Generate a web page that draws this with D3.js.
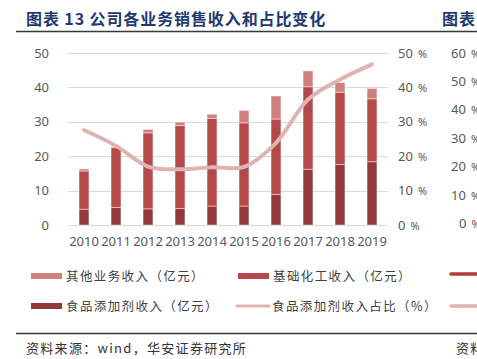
<!DOCTYPE html>
<html>
<head>
<meta charset="utf-8">
<script src="https://cdn.jsdelivr.net/npm/d3@7"></script>
<style>
  html, body { margin: 0; padding: 0; background: #fff; }
  svg { display: block; }
</style>
</head>
<body>
<div id="chart"></div>
<script>
// données
const years = ["2010", "2011", "2012", "2013", "2014", "2015", "2016", "2017", "2018", "2019"];
const foodRevenue = [4.6, 5.1, 4.7, 4.8, 5.5, 5.5, 8.9, 16.2, 17.6, 18.4];
const chemRevenue = [11.1, 17.4, 22.1, 24.1, 25.5, 24.2, 21.9, 24.0, 21.0, 18.3];
const otherRevenue = [0.6, 0.3, 1.0, 1.0, 1.2, 3.6, 6.7, 4.6, 2.8, 3.0];
const foodShare = [27.6, 23.0, 17.0, 16.2, 16.8, 16.9, 23.9, 36.5, 42.3, 46.7];
const leftTicks = [0, 10, 20, 30, 40, 50];
const rightTicks = [0, 10, 20, 30, 40, 50];
const nextChartTicks = [0, 10, 20, 30, 40, 50, 60];

const W = 477, H = 359;
const svg = d3.select("#chart").append("svg").attr("width", W).attr("height", H);

const cjk = "'Noto Sans CJK SC', sans-serif";
const num = "'Noto Sans', 'DejaVu Sans', sans-serif";
const colors = { other: "#d07f7f", chem: "#b54949", food: "#943939", line: "#e0b3b3" };

// titre
svg.append("text").attr("x", 26).attr("y", 25)
  .attr("font-family", cjk).attr("font-weight", 700).attr("font-size", 16)
  .attr("letter-spacing", 0.9).attr("fill", "#1f3a6e")
  .text("图表 13 公司各业务销售收入和占比变化");
svg.append("text").attr("x", 442).attr("y", 25)
  .attr("font-family", cjk).attr("font-weight", 700).attr("font-size", 16)
  .attr("letter-spacing", 0.9).attr("fill", "#1f3a6e").text("图表");
svg.append("line").attr("x1", 16).attr("x2", W).attr("y1", 31.5).attr("y2", 31.5)
  .attr("stroke", "#3a3a3a").attr("stroke-width", 1.5);

// échelles
const x = d3.scaleBand().domain(years).range([68, 388]).paddingInner(0.69).paddingOuter(0.345);
const y = d3.scaleLinear().domain([0, 50]).range([225, 53]);
const y2 = d3.scaleLinear().domain([0, 50]).range([225, 53]);
const y3 = d3.scaleLinear().domain([0, 60]).range([223.5, 53]);

// grille
svg.append("g").selectAll("line").data(leftTicks).join("line")
  .attr("x1", 68).attr("x2", 388)
  .attr("y1", d => Math.round(y(d)) + 0.5).attr("y2", d => Math.round(y(d)) + 0.5)
  .attr("stroke", "#d9d9d9").attr("stroke-width", 1);

// axe gauche
svg.append("g").selectAll("text").data(leftTicks).join("text")
  .attr("x", 49).attr("y", d => y(d)).attr("dy", "0.35em")
  .attr("text-anchor", "end").attr("font-family", num).attr("font-size", 13)
  .attr("fill", "#595959").text(d => d);

// axe droit
const rt = svg.append("g").selectAll("text").data(rightTicks).join("text")
  .attr("x", 398).attr("y", d => y2(d)).attr("dy", "0.35em")
  .attr("font-family", num).attr("font-size", 13).attr("fill", "#595959");
rt.append("tspan").text(d => d);
rt.append("tspan").attr("dx", 5).attr("font-size", 11).text("%");

// axe du graphique voisin (coupé au bord comme dans l'original)
const nt = svg.append("g").selectAll("text").data(nextChartTicks).join("text")
  .attr("x", d => d === 0 ? 459 : 451).attr("y", d => y3(d)).attr("dy", "0.35em")
  .attr("font-family", num).attr("font-size", 13).attr("fill", "#595959");
nt.append("tspan").text(d => d);
nt.append("tspan").attr("dx", 5).attr("font-size", 11).text("%");

// axe des x
svg.append("g").selectAll("text").data(years).join("text")
  .attr("x", d => x(d) + x.bandwidth() / 2).attr("y", 241).attr("dy", "0.35em")
  .attr("text-anchor", "middle").attr("font-family", num).attr("font-size", 13)
  .attr("fill", "#595959").text(d => d);

// barres empilées
const table = years.map((yr, i) => ({ year: yr, food: foodRevenue[i], chem: chemRevenue[i], other: otherRevenue[i] }));
const stack = d3.stack().keys(["food", "chem", "other"])(table);
svg.append("g").selectAll("g").data(stack).join("g")
  .attr("fill", d => colors[d.key])
  .selectAll("rect").data(d => d).join("rect")
  .attr("x", d => x(d.data.year))
  .attr("y", d => y(d[1]))
  .attr("width", x.bandwidth())
  .attr("height", d => y(d[0]) - y(d[1]))
  .attr("stroke", "rgba(255,255,255,0.45)").attr("stroke-width", 1);

// courbe de part
const line = d3.line()
  .x((d, i) => x(years[i]) + x.bandwidth() / 2)
  .y(d => y2(d))
  .curve(d3.curveCatmullRom.alpha(0.5));
svg.append("path").datum(foodShare).attr("d", line)
  .attr("fill", "none").attr("stroke", colors.line).attr("stroke-width", 4)
  .attr("stroke-linecap", "round");

// légende
const legend = [
  { label: "其他业务收入（亿元）", color: colors.other, type: "rect", x: 31, y: 276 },
  { label: "基础化工收入（亿元）", color: colors.chem, type: "rect", x: 238, y: 276 },
  { label: "食品添加剂收入（亿元）", color: colors.food, type: "rect", x: 31, y: 306 },
  { label: "食品添加剂收入占比（%）", color: colors.line, type: "line", x: 237, y: 306 }
];
const lg = svg.append("g").selectAll("g").data(legend).join("g")
  .attr("transform", d => `translate(${d.x},${d.y})`);
lg.filter(d => d.type === "rect").append("rect")
  .attr("x", 0).attr("y", -3).attr("width", 31).attr("height", 6).attr("fill", d => d.color);
lg.filter(d => d.type === "line").append("line")
  .attr("x1", 0).attr("x2", 32).attr("y1", 0).attr("y2", 0)
  .attr("stroke", d => d.color).attr("stroke-width", 3).attr("stroke-linecap", "round");
lg.append("text").attr("x", 35).attr("dy", "0.36em")
  .attr("font-family", cjk).attr("font-size", 12.5).attr("letter-spacing", 1.4)
  .attr("fill", "#404040").text(d => d.label);

// légende du graphique voisin (coupée)
svg.append("line").attr("x1", 451).attr("x2", W).attr("y1", 274).attr("y2", 274)
  .attr("stroke", "#b03c3c").attr("stroke-width", 3.5).attr("stroke-linecap", "round");
svg.append("line").attr("x1", 451).attr("x2", W).attr("y1", 306).attr("y2", 306)
  .attr("stroke", colors.line).attr("stroke-width", 3.5).attr("stroke-linecap", "round");

// source
svg.append("line").attr("x1", 16).attr("x2", W).attr("y1", 333.5).attr("y2", 333.5)
  .attr("stroke", "#3a3a3a").attr("stroke-width", 1.5);
svg.append("text").attr("x", 26).attr("y", 348).attr("dy", "0.36em")
  .attr("font-family", cjk).attr("font-size", 13).attr("letter-spacing", 1.3)
  .attr("fill", "#333").text("资料来源：wind，华安证券研究所");
svg.append("text").attr("x", 456).attr("y", 348).attr("dy", "0.36em")
  .attr("font-family", cjk).attr("font-size", 13).attr("letter-spacing", 1.3)
  .attr("fill", "#333").text("资料");
</script>
</body>
</html>
